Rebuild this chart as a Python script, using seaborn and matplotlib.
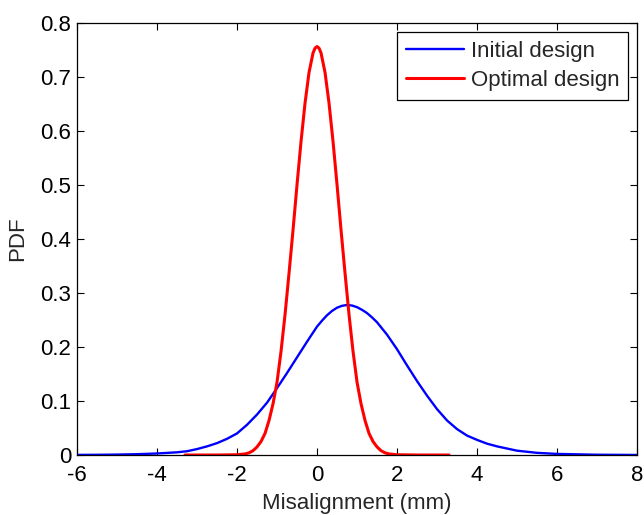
import numpy as np
import pandas as pd
import matplotlib
matplotlib.use('Agg')
import matplotlib.pyplot as plt
import seaborn as sns

# --- values ---
initial_x = [-6.0, -5.5, -5.0, -4.5, -4.0, -3.5, -3.25, -3.0, -2.75, -2.5, -2.25,
             -2.0, -1.75, -1.5, -1.25, -1.0, -0.75, -0.5, -0.25, 0.0, 0.125, 0.25,
             0.375, 0.5, 0.625, 0.75, 0.875, 1.0, 1.125, 1.25, 1.375, 1.5, 1.75,
             2.0, 2.25, 2.5, 2.75, 3.0, 3.25, 3.5, 3.75, 4.0, 4.25, 4.5, 5.0, 5.5,
             6.0, 7.0, 8.0]
initial_pdf = [0.0002, 0.0004, 0.0008, 0.0015, 0.0028, 0.005, 0.007, 0.011, 0.016,
               0.022, 0.030, 0.040, 0.056, 0.075, 0.097, 0.124, 0.152, 0.181, 0.210,
               0.238, 0.249, 0.259, 0.267, 0.273, 0.2765, 0.278, 0.277, 0.274,
               0.269, 0.263, 0.255, 0.246, 0.223, 0.196, 0.166, 0.137, 0.110, 0.085,
               0.064, 0.048, 0.036, 0.028, 0.021, 0.016, 0.008, 0.004, 0.002, 0.0005,
               0.0001]

optimal_x = [-3.3, -2.5, -2.0, -1.8, -1.7, -1.6, -1.5, -1.4, -1.3, -1.2, -1.1, -1.0,
             -0.9, -0.8, -0.7, -0.6, -0.5, -0.4, -0.3, -0.2, -0.1, -0.05, 0.0, 0.05,
             0.1, 0.2, 0.3, 0.4, 0.5, 0.6, 0.7, 0.8, 0.9, 1.0, 1.1, 1.2, 1.3, 1.4,
             1.5, 1.6, 1.7, 1.8, 2.0, 2.5, 3.3]
optimal_pdf = [0.0, 0.0, 0.0005, 0.002, 0.004, 0.008, 0.015, 0.025, 0.040, 0.064,
               0.095, 0.135, 0.192, 0.260, 0.337, 0.417, 0.501, 0.581, 0.652, 0.709,
               0.745, 0.754, 0.757, 0.754, 0.745, 0.709, 0.652, 0.581, 0.501, 0.417,
               0.337, 0.260, 0.192, 0.135, 0.095, 0.064, 0.040, 0.025, 0.015, 0.008,
               0.004, 0.002, 0.0005, 0.0, 0.0]

x_ticks = [-6, -4, -2, 0, 2, 4, 6, 8]
y_ticks = [0, 0.1, 0.2, 0.3, 0.4, 0.5, 0.6, 0.7, 0.8]
y_tick_labels = ['0', '0.1', '0.2', '0.3', '0.4', '0.5', '0.6', '0.7', '0.8']

initial = pd.DataFrame({'x': initial_x, 'pdf': initial_pdf})
optimal = pd.DataFrame({'x': optimal_x, 'pdf': optimal_pdf})

sns.set_style('ticks')
plt.rcParams['font.family'] = ['Liberation Sans', 'DejaVu Sans']

fig = plt.figure(figsize=(6.44, 5.15), dpi=100)
ax = fig.add_axes([0.1196, 0.1165, 0.8696, 0.8382])

sns.lineplot(data=initial, x='x', y='pdf', ax=ax, color='#0000ff', linewidth=1.7,
             label='Initial design', sort=False)
sns.lineplot(data=optimal, x='x', y='pdf', ax=ax, color='#ff0000', linewidth=2.2,
             label='Optimal design', sort=False)

ax.set_xlim(-6, 8)
ax.set_ylim(0, 0.8)
ax.set_xticks(x_ticks)
ax.set_xticklabels([str(t) for t in x_ticks])
ax.set_yticks(y_ticks)
ax.set_yticklabels(y_tick_labels)
ax.set_xlabel('Misalignment (mm)', fontsize=16, labelpad=5)
ax.set_ylabel('PDF', fontsize=16, labelpad=9)

ax.tick_params(direction='in', top=True, right=True, labelsize=16, length=5,
               width=0.8, colors='black')
ax.tick_params(axis='x', pad=7)
ax.tick_params(axis='y', pad=4)
for side in ax.spines.values():
    side.set_visible(True)
    side.set_color('black')
    side.set_linewidth(0.9)

leg = ax.legend(loc='upper right', fontsize=16, frameon=True, fancybox=False,
                edgecolor='black', framealpha=1, handlelength=2.6,
                borderaxespad=0.4, borderpad=0.4, handletextpad=0.3,
                labelspacing=0.35)
leg.get_frame().set_linewidth(0.9)

fig.savefig('out.png', dpi=100)
